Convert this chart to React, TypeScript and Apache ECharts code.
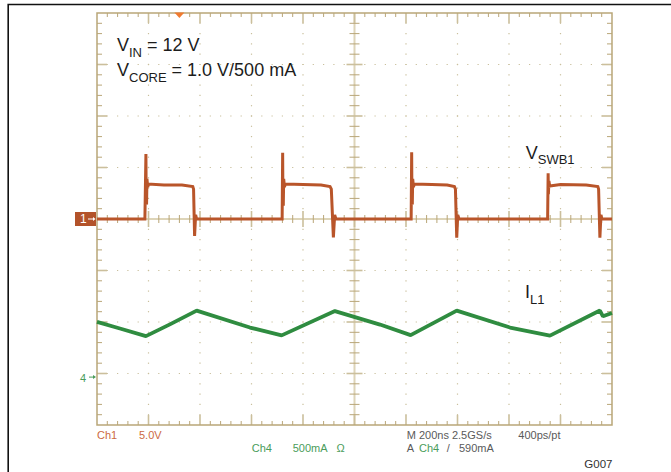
import React, { useEffect, useRef } from "react";
import * as echarts from "echarts";

// ---------------- data ----------------
const timeRangeNs = [0, 2000]; // 10 divisions, M 200ns
const nsPerDiv = 200;
const divRange = [-4, 4]; // 8 vertical divisions

const ch1VoltsPerDiv = 5; // Ch1 5.0V
const ch1OffsetDiv = 0;
const ch4MilliampsPerDiv = 500; // Ch4 500mA
const ch4OffsetDiv = -3.07;
const triggerTimeNs = 320;

// V_SWB1 (Ch1), volts
const ch1TimeNs = [
  0, 186, 190, 191, 192.5, 194, 197, 200, 260, 330, 372, 375, 379, 383, 387,
  719, 721, 722, 723.5, 725, 728, 731, 800, 870, 905, 910, 918, 923, 928,
  1220, 1222, 1223, 1224.5, 1226, 1229, 1232, 1300, 1360, 1388, 1392, 1397, 1401, 1406,
  1750, 1752, 1753, 1755, 1758, 1800, 1900, 1945, 1948, 1953, 1957, 1961, 2000,
];
const ch1Volts = [
  0, 0, 6.3, 2.0, 1.4, 3.9, 3.1, 3.4, 3.3, 3.3, 3.15, 2.9, -1.65, 0.4, 0,
  0, 6.44, 2.0, 1.3, 3.9, 3.1, 3.4, 3.35, 3.3, 3.15, 2.9, -1.78, 0.4, 0,
  0, 6.48, 2.2, 1.4, 3.9, 3.1, 3.4, 3.35, 3.3, 3.15, 2.9, -1.82, 0.4, 0,
  0, 4.44, 2.4, 3.7, 3.2, 3.35, 3.3, 3.15, 2.9, -1.82, 0.4, 0, 0,
];

// I_L1 (Ch4), milliamps
const ch4TimeNs = [0, 89, 190, 283, 387, 594, 717, 924, 1099, 1218, 1397, 1604, 1759, 1953, 1965, 2000];
const ch4Milliamps = [536, 472, 398, 512, 646, 481, 405, 641, 510, 408, 646, 481, 403, 646, 590, 623];

// texts
const annotationVin = ["V", "IN", " = 12 V"];
const annotationVcore = ["V", "CORE", " = 1.0 V/500 mA"];
const labelCh1 = ["V", "SWB1"];
const labelCh4 = ["I", "L1"];
const scopeRow1 = ["Ch1", "5.0V", "M 200ns 2.5GS/s", "400ps/pt"];
const scopeRow2 = ["Ch4", "500mA", "Ω", "A", "Ch4", "/", "590mA"];
const figureId = "G007";

// ---------------- styling ----------------
const FONT = "'Liberation Sans', Arial, Helvetica, sans-serif";
const CENTRAL = 0.3465;
const TEXT_DARK = "#1c1c1c";
const CH1_COLOR = "#b9552a";
const CH1_TEXT = "#cc6a42";
const CH4_COLOR = "#2f8c40";
const CH4_TEXT = "#4a9c5a";
const GRAY_TEXT = "#5a5a5a";
const FRAME = "#b9a678";
const MAJOR_TICK = "#cbbf9c";
const DOT = "#c9bf9c";
const CENTER_LINE = "#ddd4b8";

let measureCtx: CanvasRenderingContext2D | null = null;
function measure(s: string, size: number): number {
  if (!measureCtx) measureCtx = document.createElement("canvas").getContext("2d");
  if (!measureCtx) return s.length * size * 0.55;
  measureCtx.font = `${size}px ${FONT}`;
  return measureCtx.measureText(s).width;
}

function txt(x: number, baseline: number, s: string, size: number, fill = TEXT_DARK) {
  return {
    type: "text",
    x,
    y: baseline - CENTRAL * size,
    silent: true,
    z: 20,
    style: { text: s, fontSize: size, fontFamily: FONT, fill, align: "left", verticalAlign: "middle" },
  };
}

function subLabel(x: number, baseline: number, parts: string[], mainSize = 18, subSize = 13, drop = 6) {
  const els: any[] = [];
  let cx = x;
  els.push(txt(cx, baseline, parts[0], mainSize));
  cx += measure(parts[0], mainSize);
  els.push(txt(cx, baseline + drop, parts[1], subSize));
  cx += measure(parts[1], subSize);
  if (parts[2]) els.push(txt(cx, baseline, parts[2], mainSize));
  return els;
}

function scopeGrid(params: any, api: any) {
  const p = (t: number, d: number) => api.coord([t, d]);
  const [t0, t1] = timeRangeNs;
  const [d0, d1] = divRange;
  const nX = Math.round((t1 - t0) / nsPerDiv);
  const nY = d1 - d0;
  const [xL, yT] = p(t0, d1);
  const [xR, yB] = p(t1, d0);
  const tMid = (t0 + t1) / 2;
  const children: any[] = [];
  const line = (x1: number, y1: number, x2: number, y2: number, stroke: string, w: number) =>
    children.push({ type: "line", shape: { x1, y1, x2, y2 }, style: { stroke, lineWidth: w } });
  const dot = (x: number, y: number) =>
    children.push({ type: "rect", shape: { x: x - 0.6, y: y - 0.6, width: 1.2, height: 1.2 }, style: { fill: DOT } });

  // dotted interior grid lines
  for (let i = 1; i < nX; i++) {
    const t = t0 + i * nsPerDiv;
    if (t === tMid) continue;
    for (let k = 1; k < nY * 5; k++) {
      const [x, y] = p(t, d0 + k / 5);
      dot(x, y);
    }
  }
  for (let j = 1; j < nY; j++) {
    const d = d0 + j;
    if (d === 0) continue;
    for (let k = 1; k < nX * 5; k++) {
      const [x, y] = p(t0 + (k * nsPerDiv) / 5, d);
      dot(x, y);
    }
  }
  // centre cross
  const [xc] = p(tMid, 0);
  const [, yc] = p(t0, 0);
  line(xc, yT, xc, yB, CENTER_LINE, 2);
  line(xL, yc, xR, yc, CENTER_LINE, 2);
  for (let k = 1; k < nY * 5; k++) {
    const [, y] = p(tMid, d0 + k / 5);
    const major = k % 5 === 0;
    line(xc - (major ? 8 : 5), y, xc + (major ? 8 : 5), y, major ? MAJOR_TICK : FRAME, major ? 1.6 : 1);
    line(xL, y, xL + (major ? 10 : 5), y, major ? MAJOR_TICK : FRAME, major ? 1.6 : 1);
    line(xR, y, xR - (major ? 10 : 5), y, major ? MAJOR_TICK : FRAME, major ? 1.6 : 1);
  }
  for (let k = 1; k < nX * 5; k++) {
    const [x] = p(t0 + (k * nsPerDiv) / 5, 0);
    const major = k % 5 === 0;
    line(x, yc - (major ? 8 : 4), x, yc + (major ? 8 : 4), major ? MAJOR_TICK : FRAME, major ? 1.6 : 1);
    line(x, yT, x, yT + (major ? 10 : 4), major ? MAJOR_TICK : FRAME, major ? 1.6 : 1);
    line(x, yB, x, yB - (major ? 10 : 4), major ? MAJOR_TICK : FRAME, major ? 1.6 : 1);
  }
  // frame
  children.push({
    type: "rect",
    shape: { x: xL, y: yT, width: xR - xL, height: yB - yT },
    style: { fill: "none", stroke: FRAME, lineWidth: 1.5 },
  });
  // trigger position marker
  const [xt] = p(triggerTimeNs, d1);
  children.push({
    type: "polygon",
    shape: { points: [[xt - 5, yT - 0.5], [xt + 5, yT - 0.5], [xt, yT + 5]] },
    style: { fill: "#f07a30" },
  });
  // Ch1 ground marker
  const [, y1m] = p(t0, ch1OffsetDiv);
  children.push({
    type: "rect",
    shape: { x: xL - 22, y: y1m - 7, width: 21, height: 14 },
    style: { fill: "#b3532a" },
  });
  children.push({
    type: "text",
    x: xL - 17,
    y: y1m,
    style: { text: "1", fill: "#fff", fontSize: 12, fontFamily: FONT, align: "left", verticalAlign: "middle" },
  });
  line(xL - 9, y1m, xL - 3, y1m, "#fff", 1);
  children.push({
    type: "polygon",
    shape: { points: [[xL - 4, y1m - 2], [xL - 1.5, y1m], [xL - 4, y1m + 2]] },
    style: { fill: "#fff" },
  });
  // Ch4 ground marker
  const [, y4m] = p(t0, ch4OffsetDiv);
  children.push({
    type: "text",
    x: xL - 17,
    y: y4m + 1,
    style: { text: "4", fill: CH4_TEXT, fontSize: 11, fontFamily: FONT, align: "left", verticalAlign: "middle" },
  });
  line(xL - 8, y4m, xL - 3, y4m, CH4_TEXT, 1);
  children.push({
    type: "polygon",
    shape: { points: [[xL - 4, y4m - 2], [xL - 1, y4m], [xL - 4, y4m + 2]] },
    style: { fill: CH4_TEXT },
  });
  return { type: "group", children };
}

function buildOption() {
  const ch1Data = ch1TimeNs.map((t, i) => [t, ch1Volts[i] / ch1VoltsPerDiv + ch1OffsetDiv]);
  const ch4Data = ch4TimeNs.map((t, i) => [t, ch4Milliamps[i] / ch4MilliampsPerDiv + ch4OffsetDiv]);

  const row1 = 438.8;
  const row2 = 451.7;
  const graphics: any[] = [
    {
      type: "rect",
      shape: { x: 8.2, y: 4.5, width: 700, height: 500 },
      style: { fill: "none", stroke: "#111", lineWidth: 1.6 },
      silent: true,
      z: 20,
    },
    ...subLabel(117, 51, annotationVin),
    ...subLabel(117, 76.3, annotationVcore),
    ...subLabel(525.7, 159, labelCh1, 18, 13, 5.5),
    ...subLabel(525, 298, labelCh4, 18, 13, 6),
    txt(97, row1, scopeRow1[0], 11, CH1_TEXT),
    txt(139, row1, scopeRow1[1], 11, CH1_TEXT),
    txt(406.7, row1, scopeRow1[2], 11, GRAY_TEXT),
    txt(518.3, row1, scopeRow1[3], 11, GRAY_TEXT),
    txt(251.7, row2, scopeRow2[0], 11, CH4_TEXT),
    txt(292.7, row2, scopeRow2[1], 11, CH4_TEXT),
    txt(336.5, row2, scopeRow2[2], 11, CH4_TEXT),
    txt(406.7, row2, scopeRow2[3], 11, GRAY_TEXT),
    txt(419, row2, scopeRow2[4], 11, CH4_TEXT),
    txt(446.7, row2, scopeRow2[5], 11, GRAY_TEXT),
    txt(459, row2, scopeRow2[6], 11, GRAY_TEXT),
    txt(584.3, 468, figureId, 11.5, "#333"),
  ];

  return {
    animation: false,
    backgroundColor: "#ffffff",
    grid: { left: 97, top: 13, width: 515, height: 412, containLabel: false },
    xAxis: { type: "value", min: timeRangeNs[0], max: timeRangeNs[1], interval: nsPerDiv, show: false },
    yAxis: { type: "value", min: divRange[0], max: divRange[1], interval: 1, show: false },
    graphic: { elements: graphics },
    series: [
      {
        type: "custom",
        name: "graticule",
        coordinateSystem: "cartesian2d",
        data: [[0, 0]],
        renderItem: scopeGrid,
        silent: true,
        clip: false,
        z: 1,
      },
      {
        type: "line",
        name: "VSWB1",
        data: ch1Data,
        showSymbol: false,
        symbol: "none",
        lineStyle: { color: CH1_COLOR, width: 3, join: "miter" },
        silent: true,
        z: 3,
      },
      {
        type: "line",
        name: "IL1",
        data: ch4Data,
        showSymbol: false,
        symbol: "none",
        lineStyle: { color: CH4_COLOR, width: 3.8 },
        silent: true,
        z: 3,
      },
    ],
  };
}

export default function App() {
  const ref = useRef<HTMLDivElement>(null);
  useEffect(() => {
    if (!ref.current) return;
    const chart = echarts.init(ref.current, null, { renderer: "svg" });
    chart.setOption(buildOption() as any);
    return () => chart.dispose();
  }, []);
  return (
    <div
      ref={ref}
      style={{ position: "absolute", left: 0, top: 0, width: 671, height: 472, background: "#fff" }}
    />
  );
}
